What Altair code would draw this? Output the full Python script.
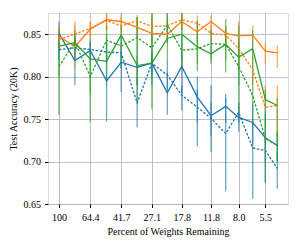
import altair as alt
import pandas as pd

# x positions (percent of weights remaining)
percent = [100, 79.9, 64.4, 51.2, 41.7, 33.3, 27.1, 21.8, 17.8, 14.3, 11.8, 9.6, 8.0, 6.57, 5.5, 4.65]
tick_values = [100, 64.4, 41.7, 27.1, 17.8, 11.8, 8.0, 5.5]

blue_solid = [0.851, 0.819, 0.831, 0.795, 0.817, 0.811, 0.816, 0.781, 0.812, 0.776, 0.754, 0.765, 0.752, 0.746, 0.728, 0.719]
blue_solid_lo = [0.838, 0.790, 0.818, 0.747, 0.782, 0.790, 0.790, 0.755, 0.780, 0.718, 0.711, 0.745, 0.735, 0.720, 0.700, 0.700]
blue_solid_hi = [0.865, 0.845, 0.842, 0.830, 0.835, 0.825, 0.830, 0.805, 0.830, 0.800, 0.790, 0.780, 0.765, 0.770, 0.755, 0.735]

blue_dashed = [0.832, 0.834, 0.832, 0.829, 0.828, 0.769, 0.816, 0.802, 0.778, 0.764, 0.751, 0.733, 0.758, 0.716, 0.713, 0.692]
blue_dashed_lo = [0.820, 0.820, 0.820, 0.815, 0.810, 0.740, 0.800, 0.785, 0.760, 0.745, 0.730, 0.665, 0.745, 0.656, 0.675, 0.668]
blue_dashed_hi = [0.845, 0.845, 0.840, 0.840, 0.840, 0.800, 0.830, 0.820, 0.790, 0.785, 0.770, 0.775, 0.770, 0.750, 0.730, 0.710]

orange_solid = [0.848, 0.835, 0.856, 0.867, 0.865, 0.858, 0.851, 0.850, 0.865, 0.853, 0.865, 0.851, 0.848, 0.849, 0.830, 0.828]
orange_solid_lo = [0.840, 0.810, 0.845, 0.855, 0.855, 0.845, 0.840, 0.840, 0.855, 0.840, 0.850, 0.840, 0.835, 0.835, 0.815, 0.810]
orange_solid_hi = [0.860, 0.865, 0.865, 0.875, 0.875, 0.870, 0.875, 0.860, 0.875, 0.865, 0.872, 0.860, 0.865, 0.860, 0.840, 0.837]

orange_dashed = [0.844, 0.850, 0.857, 0.866, 0.860, 0.866, 0.859, 0.860, 0.867, 0.863, 0.851, 0.849, 0.833, 0.808, 0.764, 0.766]
orange_dashed_lo = [0.835, 0.840, 0.845, 0.855, 0.850, 0.855, 0.850, 0.850, 0.855, 0.850, 0.840, 0.835, 0.810, 0.790, 0.760, 0.730]
orange_dashed_hi = [0.855, 0.860, 0.865, 0.875, 0.870, 0.873, 0.870, 0.870, 0.875, 0.872, 0.860, 0.860, 0.845, 0.825, 0.790, 0.790]

green_solid = [0.836, 0.840, 0.821, 0.818, 0.849, 0.813, 0.816, 0.845, 0.850, 0.835, 0.827, 0.838, 0.823, 0.833, 0.773, 0.766]
green_solid_lo = [0.800, 0.830, 0.746, 0.790, 0.835, 0.790, 0.762, 0.820, 0.818, 0.806, 0.815, 0.805, 0.790, 0.800, 0.720, 0.700]
green_solid_hi = [0.857, 0.850, 0.845, 0.850, 0.860, 0.870, 0.875, 0.875, 0.875, 0.866, 0.840, 0.868, 0.860, 0.855, 0.785, 0.775]

green_dashed = [0.812, 0.841, 0.800, 0.843, 0.836, 0.846, 0.834, 0.861, 0.831, 0.833, 0.839, 0.838, 0.812, 0.778, 0.727, 0.719]
green_dashed_lo = [0.755, 0.820, 0.780, 0.820, 0.810, 0.770, 0.810, 0.840, 0.810, 0.815, 0.820, 0.820, 0.757, 0.740, 0.675, 0.700]
green_dashed_hi = [0.840, 0.855, 0.820, 0.860, 0.850, 0.870, 0.850, 0.875, 0.850, 0.850, 0.855, 0.855, 0.840, 0.800, 0.760, 0.735]

series = [
    ("blue_solid", "#1f77b4", False, blue_solid, blue_solid_lo, blue_solid_hi),
    ("blue_dashed", "#1f77b4", True, blue_dashed, blue_dashed_lo, blue_dashed_hi),
    ("orange_solid", "#ff7f0e", False, orange_solid, orange_solid_lo, orange_solid_hi),
    ("orange_dashed", "#ff7f0e", True, orange_dashed, orange_dashed_lo, orange_dashed_hi),
    ("green_solid", "#2ca02c", False, green_solid, green_solid_lo, green_solid_hi),
    ("green_dashed", "#2ca02c", True, green_dashed, green_dashed_lo, green_dashed_hi),
]

xscale = alt.Scale(type="log", domain=[4.0, 116.6], reverse=True, nice=False, zero=False)
yscale = alt.Scale(domain=[0.65, 0.875], nice=False, zero=False)

common = dict(grid=True, gridColor="#b0b0b0", gridWidth=0.8,
              tickColor="black", tickSize=3.5, domain=False,
              labelFont="Liberation Serif", titleFont="Liberation Serif",
              labelFontSize=10, titleFontSize=10, titleFontWeight="normal",
              labelColor="black", titleColor="black")
xaxis = alt.Axis(values=tick_values, title="Percent of Weights Remaining",
                 labelExpr="datum.value >= 100 ? '100' : format(datum.value, '.1f')",
                 labelPadding=5, titlePadding=4, **common)
yaxis = alt.Axis(values=[0.65, 0.70, 0.75, 0.80, 0.85], format=".2f", title="Test Accuracy (20K)",
                 labelPadding=4, titlePadding=5, **common)

X = alt.X("percent:Q", scale=xscale, axis=xaxis)

bar_layers = []
line_layers = []
for name, color, dashed, vals, lo, hi in series:
    df = pd.DataFrame({"percent": percent, "acc": vals, "lo": lo, "hi": hi})
    bars = alt.Chart(df).mark_rule(color=color, strokeWidth=1.3, opacity=0.65).encode(
        x=X,
        y=alt.Y("lo:Q", scale=yscale, axis=yaxis),
        y2="hi:Q",
    )
    bar_layers.append(bars)
    line_kwargs = dict(color=color, strokeWidth=1.3, clip=True)
    if dashed:
        line_kwargs["strokeDash"] = [2.5, 1.6]
    line = alt.Chart(df).mark_line(**line_kwargs).encode(
        x=X,
        y=alt.Y("acc:Q", scale=yscale, axis=yaxis),
    )
    line_layers.append(line)

chart = alt.layer(*bar_layers, *line_layers).properties(
    width=240, height=191,
    autosize=alt.AutoSizeParams(type="none"),
    padding={"left": 40, "top": 5, "right": 6, "bottom": 38},
).configure_view(stroke="black", strokeWidth=1).configure(background="white")

chart.save("out.html", embed_options={"renderer": "svg", "actions": False})
